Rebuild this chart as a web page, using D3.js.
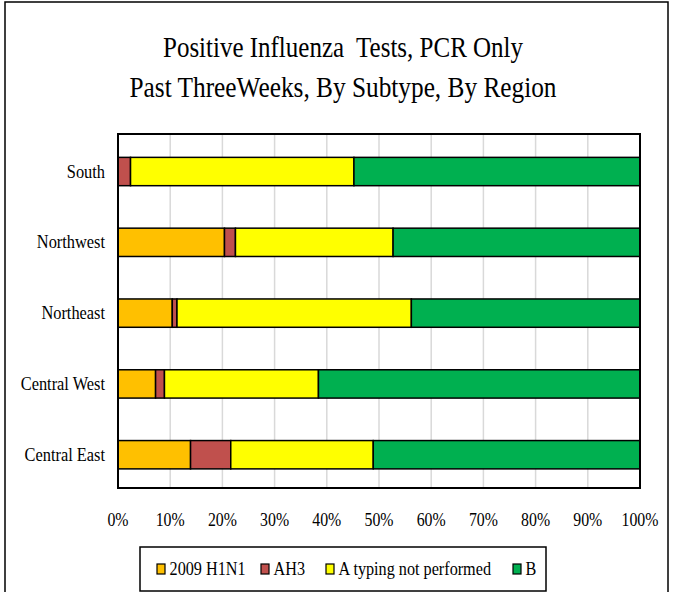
<!DOCTYPE html>
<html>
<head>
<meta charset="utf-8">
<script src="https://cdn.jsdelivr.net/npm/d3@7"></script>
</head>
<body style="margin:0">
<script>
// data (percent of positive tests)
var regions = ["South", "Northwest", "Northeast", "Central West", "Central East"];
var subtypes = ["2009 H1N1", "AH3", "A typing not performed", "B"];
var h1n1   = [0,    20.4, 10.4, 7.2, 13.9];
var ah3    = [2.4,  2.1,  0.9,  1.7, 7.7];
var atype  = [42.8, 30.2, 44.9, 29.5, 27.3];
var typeB  = [54.8, 47.3, 43.8, 61.6, 51.1];
var colors = ["#FFC000", "#C0504D", "#FFFF00", "#00B050"];
var xTicks = [0, 10, 20, 30, 40, 50, 60, 70, 80, 90, 100];

var W = 673, H = 592;
var margin = {top: 134, right: 33, bottom: 104, left: 118},
    width = W - margin.left - margin.right,
    height = H - margin.top - margin.bottom;

function serif(d) { return "'Liberation Serif'"; }

var svg = d3.select("body").append("svg")
    .attr("width", W)
    .attr("height", H);

// outer chart frame
svg.append("rect")
    .attr("x", 5).attr("y", 2)
    .attr("width", 663).attr("height", 600)
    .attr("fill", "none")
    .attr("stroke", "#000")
    .attr("stroke-width", 1.5);

// title
var titleLines = ["Positive Influenza  Tests, PCR Only", "Past ThreeWeeks, By Subtype, By Region"];
var titleWidths = [360, 427];
svg.selectAll(".title").data(titleLines).enter().append("text")
    .attr("class", "title")
    .attr("x", 343)
    .attr("y", function(d, i) { return 57 + i * 40; })
    .attr("text-anchor", "middle")
    .attr("font-size", 30)
    .style("font-family", serif)
    .style("white-space", "pre")
    .attr("textLength", function(d, i) { return titleWidths[i]; })
    .attr("lengthAdjust", "spacingAndGlyphs")
    .text(function(d) { return d; });

var g = svg.append("g")
    .attr("transform", "translate(" + margin.left + "," + margin.top + ")");

var x = d3.scaleLinear().domain([0, 100]).range([0, width]);
var y = d3.scaleBand().domain(regions).range([0, height])
    .paddingInner(0.6).paddingOuter(0.3).align(0.55);

// gridlines
g.selectAll(".grid").data(xTicks.slice(1, -1)).enter().append("line")
    .attr("x1", function(d) { return x(d); })
    .attr("x2", function(d) { return x(d); })
    .attr("y1", 0).attr("y2", height)
    .attr("stroke", "#d9d9d9")
    .attr("stroke-width", 1.5);

// stack the series
var table = regions.map(function(r, i) {
  return {region: r, "2009 H1N1": h1n1[i], "AH3": ah3[i], "A typing not performed": atype[i], "B": typeB[i]};
});
var series = d3.stack().keys(subtypes)(table);

g.selectAll(".series").data(series).enter().append("g")
    .attr("fill", function(d, i) { return colors[i]; })
  .selectAll("rect").data(function(d) { return d; }).enter().append("rect")
    .filter(function(d) { return d[1] - d[0] > 0; })
    .attr("x", function(d) { return x(d[0]); })
    .attr("y", function(d) { return y(d.data.region); })
    .attr("width", function(d) { return x(d[1]) - x(d[0]); })
    .attr("height", y.bandwidth())
    .attr("stroke", "#000")
    .attr("stroke-width", 1.5);

// plot border
g.append("rect")
    .attr("width", width).attr("height", height)
    .attr("fill", "none")
    .attr("stroke", "#000")
    .attr("stroke-width", 2);

// x tick labels
g.selectAll(".xt").data(xTicks).enter().append("text")
    .attr("x", function(d) { return x(d); })
    .attr("y", height + 38)
    .attr("text-anchor", "middle")
    .attr("font-size", 18)
    .style("font-family", serif)
    .attr("transform", function(d) { return "translate(" + x(d) + ",0) scale(0.88,1) translate(" + (-x(d)) + ",0)"; })
    .text(function(d) { return d + "%"; });

// y labels
g.selectAll(".yt").data(regions).enter().append("text")
    .attr("x", -13)
    .attr("y", function(d) { return y(d) + y.bandwidth() / 2 + 6; })
    .attr("text-anchor", "end")
    .attr("font-size", 18)
    .style("font-family", serif)
    .attr("transform", "translate(-13,0) scale(0.91,1) translate(13,0)")
    .text(function(d) { return d; });

// legend
svg.append("rect")
    .attr("x", 140).attr("y", 547)
    .attr("width", 406).attr("height", 44)
    .attr("fill", "#fff")
    .attr("stroke", "#000")
    .attr("stroke-width", 1.5);

var legX = [157, 261, 326, 513];
var leg = svg.selectAll(".leg").data(subtypes).enter().append("g")
    .attr("transform", function(d, i) { return "translate(" + legX[i] + ",569)"; });
leg.append("rect")
    .attr("x", 0).attr("y", -5)
    .attr("width", 8).attr("height", 10)
    .attr("fill", function(d, i) { return colors[i]; })
    .attr("stroke", "#000")
    .attr("stroke-width", 1.2);
leg.append("text")
    .attr("x", 14)
    .attr("y", 6)
    .attr("font-size", 18)
    .style("font-family", serif)
    .attr("transform", "scale(0.9,1)")
    .text(function(d) { return d; });
</script>
</body>
</html>
